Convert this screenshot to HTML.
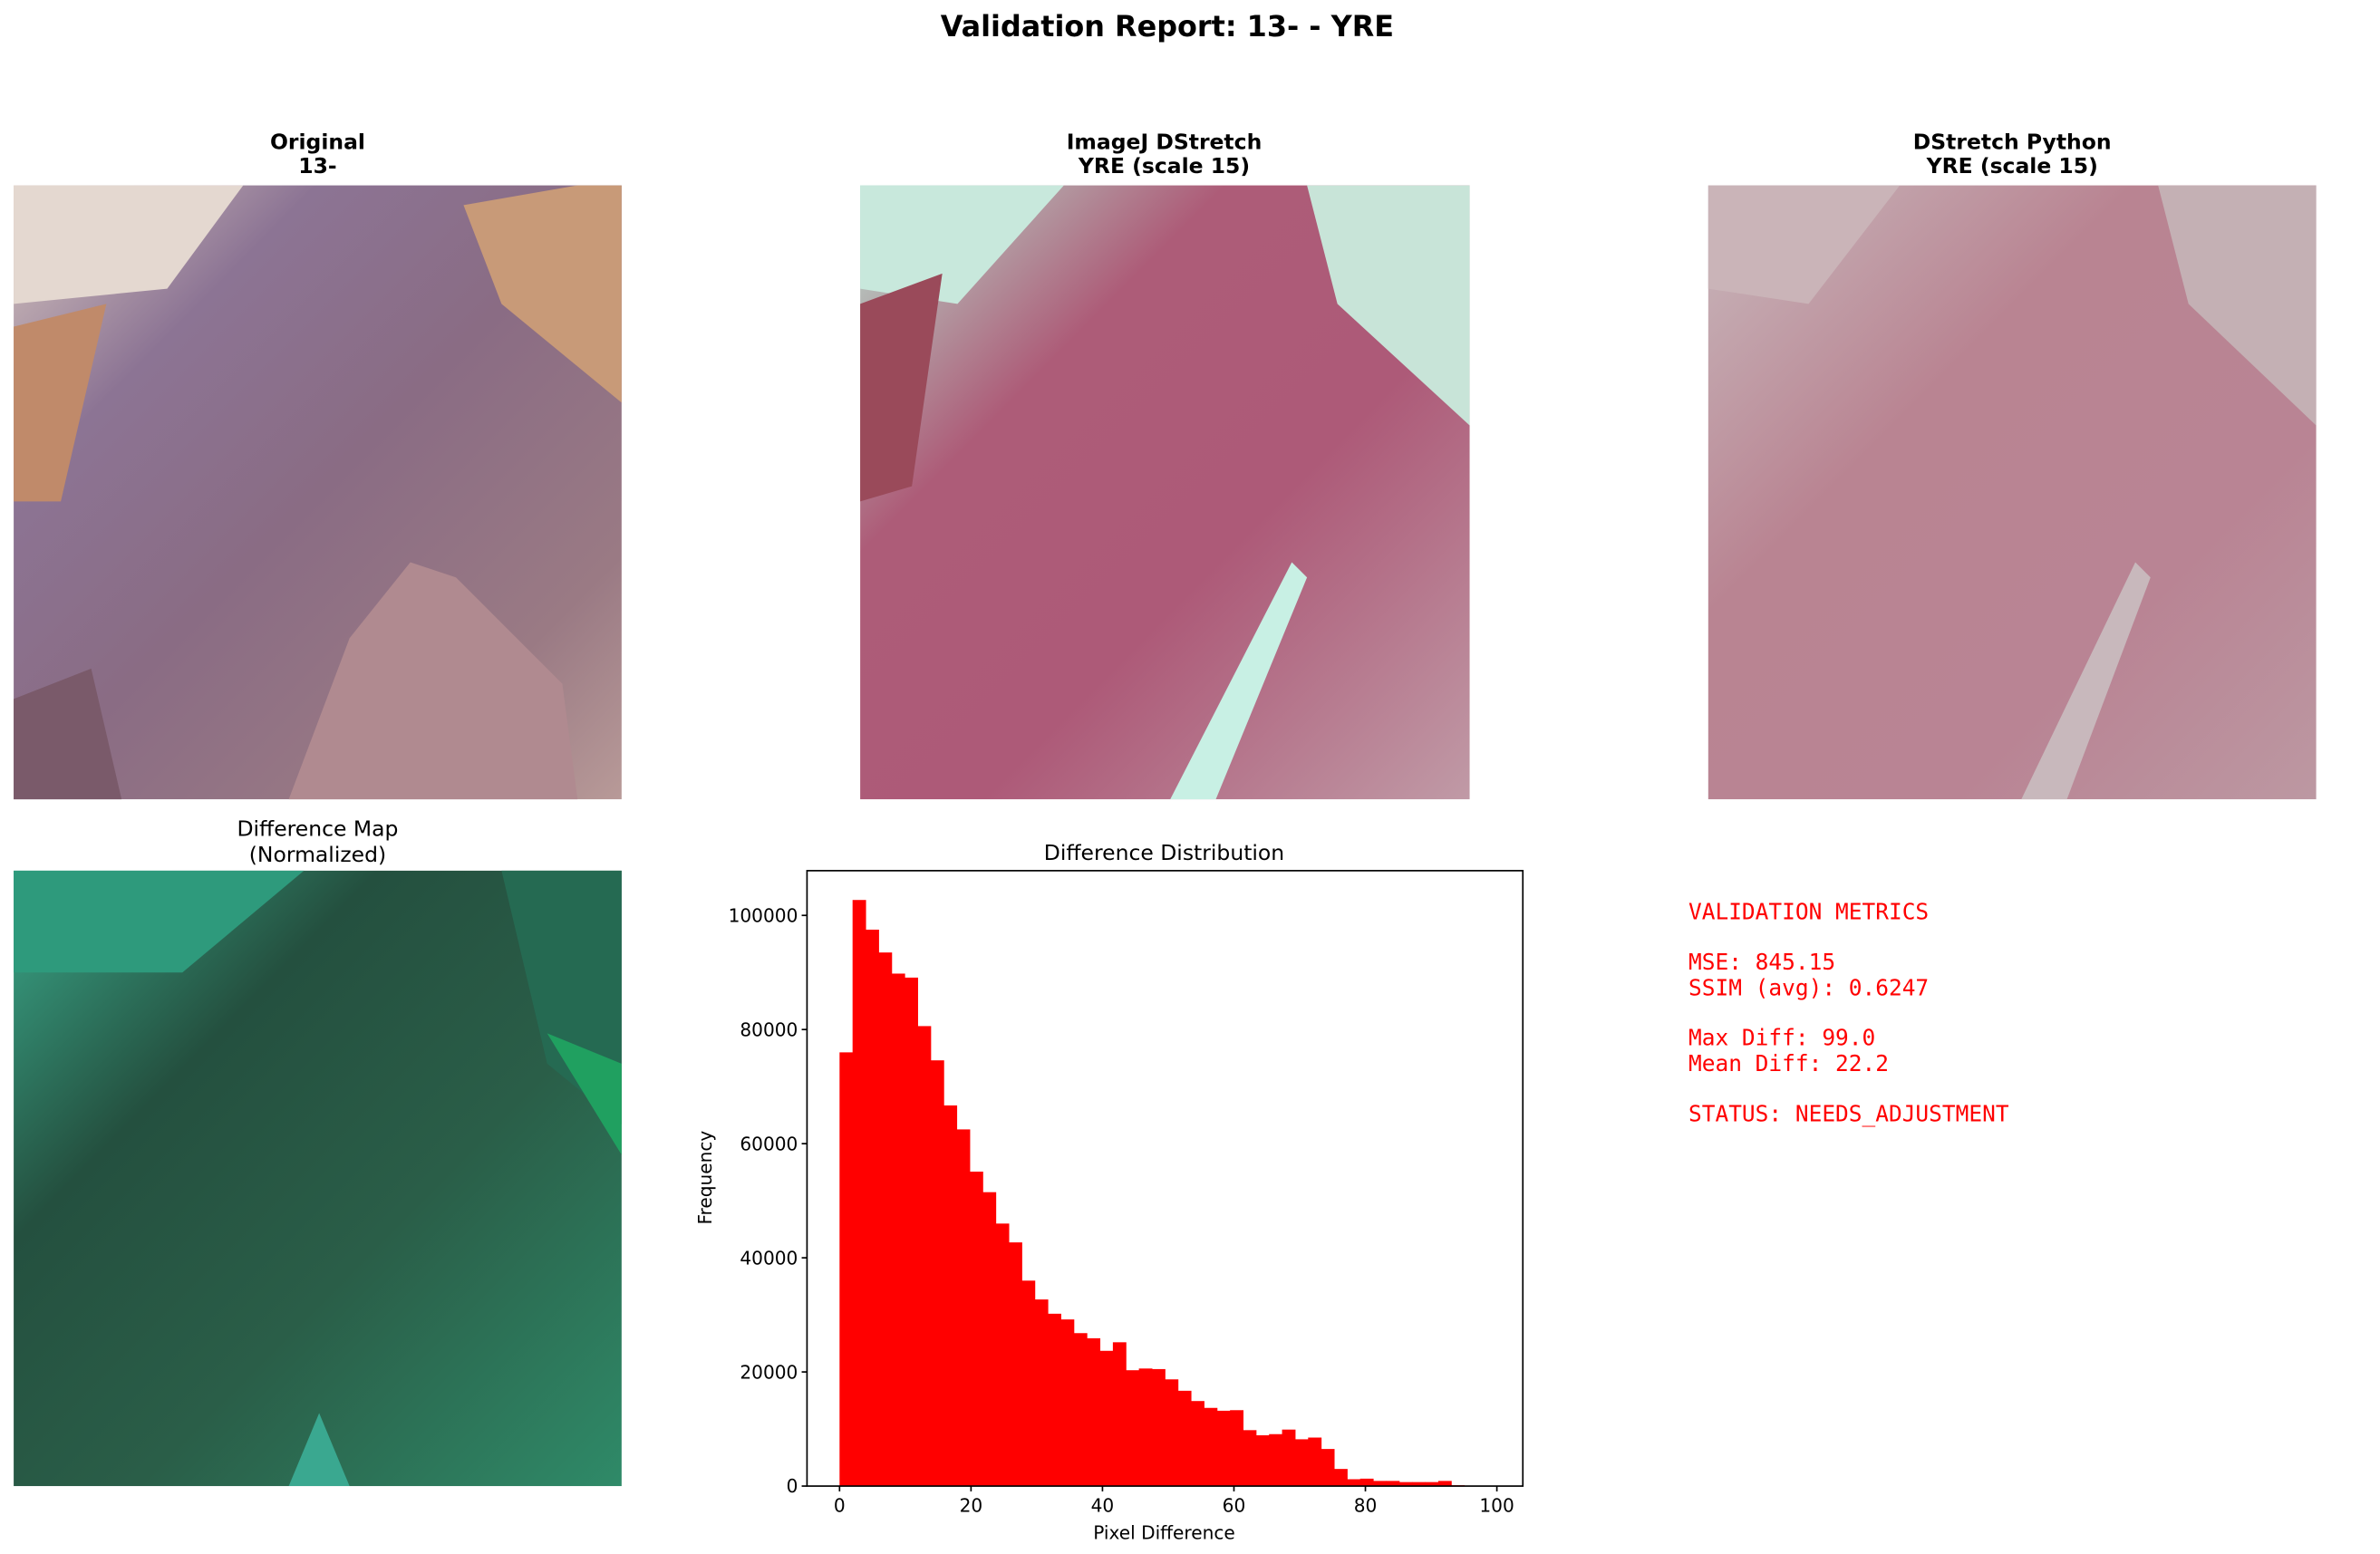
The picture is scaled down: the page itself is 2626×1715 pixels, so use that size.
<!DOCTYPE html>
<html><head><meta charset="utf-8"><style>
html,body{margin:0;padding:0;background:#fff;}
svg{display:block;font-family:"DejaVu Sans","Liberation Sans",sans-serif;}
</style></head><body>
<svg id="fig" width="2626" height="1715" viewBox="0 0 1566 1022.7" preserveAspectRatio="none" xmlns="http://www.w3.org/2000/svg">
<defs>
<linearGradient id="gOrig" x1="0" y1="0" x2="1" y2="1">
<stop offset="0" stop-color="#d8c8c0"/><stop offset="0.25" stop-color="#8c7494"/><stop offset="0.5" stop-color="#8a6c84"/><stop offset="0.8" stop-color="#9a7a84"/><stop offset="1" stop-color="#b89a98"/></linearGradient>
<linearGradient id="gIJ" x1="0" y1="0" x2="1" y2="1">
<stop offset="0" stop-color="#b8e0d0"/><stop offset="0.3" stop-color="#ad5c78"/><stop offset="0.6" stop-color="#ad5a78"/><stop offset="1" stop-color="#c09aa6"/></linearGradient>
<linearGradient id="gPy" x1="0" y1="0" x2="1" y2="1">
<stop offset="0" stop-color="#c8b8bc"/><stop offset="0.35" stop-color="#b98492"/><stop offset="0.7" stop-color="#b98494"/><stop offset="1" stop-color="#bc98a2"/></linearGradient>
<linearGradient id="gDiff" x1="0" y1="0" x2="1" y2="1">
<stop offset="0" stop-color="#3aa88a"/><stop offset="0.3" stop-color="#24503f"/><stop offset="0.6" stop-color="#2a5e48"/><stop offset="1" stop-color="#2f8a68"/></linearGradient>
</defs>
<text x="768" y="24" text-anchor="middle" font-size="19" font-weight="bold">Validation Report: 13- - YRE</text>

<g>
<text x="209" y="98" text-anchor="middle" font-size="14" font-weight="bold">Original</text>
<text x="209" y="114" text-anchor="middle" font-size="14" font-weight="bold">13-</text>
<rect x="9" y="122" width="400" height="404" fill="url(#gOrig)"/>
<polygon points="9,122 160,122 110,190 9,200" fill="#e4d8d0"/>
<polygon points="305,135 380,122 409,122 409,265 330,200" fill="#c89a78"/>
<polygon points="9,215 70,200 40,330 9,330" fill="#c08a6a"/>
<polygon points="270,370 300,380 370,450 380,526 190,526 230,420" fill="#b08a90"/>
<polygon points="9,460 60,440 80,526 9,526" fill="#7a5a6a"/>
</g>

<g>
<text x="766" y="98" text-anchor="middle" font-size="14" font-weight="bold">ImageJ DStretch</text>
<text x="766" y="114" text-anchor="middle" font-size="14" font-weight="bold">YRE (scale 15)</text>
<rect x="566" y="122" width="401" height="404" fill="url(#gIJ)"/>
<polygon points="566,122 700,122 630,200 566,190" fill="#c8e8dc"/>
<polygon points="860,122 967,122 967,280 880,200" fill="#c8e4d8"/>
<polygon points="770,526 850,370 860,380 800,526" fill="#c8f0e4"/>
<polygon points="566,200 620,180 600,320 566,330" fill="#9a4a5a"/>
</g>

<g>
<text x="1324" y="98" text-anchor="middle" font-size="14" font-weight="bold">DStretch Python</text>
<text x="1324" y="114" text-anchor="middle" font-size="14" font-weight="bold">YRE (scale 15)</text>
<rect x="1124" y="122" width="400" height="404" fill="url(#gPy)"/>
<polygon points="1124,122 1250,122 1190,200 1124,190" fill="#cab4b8"/>
<polygon points="1420,122 1524,122 1524,280 1440,200" fill="#c4b0b4"/>
<polygon points="1330,526 1405,370 1415,380 1360,526" fill="#c8b8bc"/>
</g>

<g>
<text x="209" y="550" text-anchor="middle" font-size="14">Difference Map</text>
<text x="209" y="567" text-anchor="middle" font-size="14">(Normalized)</text>
<rect x="9" y="573" width="400" height="405" fill="url(#gDiff)"/>
<polygon points="9,573 200,573 120,640 9,640" fill="#2e9a7c"/>
<polygon points="330,573 409,573 409,740 360,700" fill="#256a52"/>
<polygon points="360,680 409,700 409,760" fill="#20a060"/>
<polygon points="190,978 210,930 230,978" fill="#3aa890"/>
</g>

<g id="hist">
<text x="766" y="566" text-anchor="middle" font-size="14">Difference Distribution</text>
<g id="bars"></g>
<rect x="531" y="573" width="471" height="405" fill="none" stroke="#000" stroke-width="1"/>
<g id="xticks" font-size="12"></g>
<g id="yticks" font-size="12"></g>
<text x="766" y="1013" text-anchor="middle" font-size="12">Pixel Difference</text>
<text transform="translate(468,775) rotate(-90)" text-anchor="middle" font-size="12">Frequency</text>
</g>

<g font-family="'DejaVu Sans Mono','Liberation Mono',monospace" font-size="14.6" fill="#ff0000">
<text x="1111" y="605">VALIDATION METRICS</text>
<text x="1111" y="638">MSE: 845.15</text>
<text x="1111" y="655">SSIM (avg): 0.6247</text>
<text x="1111" y="688">Max Diff: 99.0</text>
<text x="1111" y="705">Mean Diff: 22.2</text>
<text x="1111" y="738">STATUS: NEEDS_ADJUSTMENT</text>
</g>
</svg>
<script>
const binCounts = [76000,102700,97500,93500,89800,89100,80600,74600,66700,62500,55100,51500,46000,42700,36000,32700,30200,29200,26800,25900,23700,25200,20300,20600,20500,18700,16700,14900,13700,13200,13300,9800,8900,9100,9900,8200,8500,6500,3000,1200,1300,900,900,700,700,700,900,150,80,50];
const binStart = 0;
const binWidth = 1.98;
const xTickLabels = [0,20,40,60,80,100];
const yTickLabels = [0,20000,40000,60000,80000,100000];

const NS = "http://www.w3.org/2000/svg";
const plotL = 531, plotR = 1002, plotT = 573, plotB = 978;
const xMin = -4.95, xMax = 103.95, yMax = 107835;
function xs(v){ return plotL + (v - xMin) / (xMax - xMin) * (plotR - plotL); }
function ys(v){ return plotB - v / yMax * (plotB - plotT); }

const bars = document.getElementById('bars');
binCounts.forEach((c, i) => {
  const x0 = xs(binStart + i * binWidth), x1 = xs(binStart + (i + 1) * binWidth);
  const r = document.createElementNS(NS, 'rect');
  r.setAttribute('x', x0); r.setAttribute('width', x1 - x0 + 0.3);
  r.setAttribute('y', ys(c)); r.setAttribute('height', plotB - ys(c));
  r.setAttribute('fill', '#ff0000');
  
  
  bars.appendChild(r);
});

const xt = document.getElementById('xticks');
xTickLabels.forEach(v => {
  const x = xs(v);
  const l = document.createElementNS(NS, 'line');
  l.setAttribute('x1', x); l.setAttribute('x2', x); l.setAttribute('y1', plotB); l.setAttribute('y2', plotB + 3.5);
  l.setAttribute('stroke', '#000');
  
  
  xt.appendChild(l);
  const t = document.createElementNS(NS, 'text');
  t.setAttribute('x', x); t.setAttribute('y', plotB + 17); t.setAttribute('text-anchor', 'middle');
  t.textContent = v;
  
  
  xt.appendChild(t);
});

const yt = document.getElementById('yticks');
yTickLabels.forEach(v => {
  const y = ys(v);
  const l = document.createElementNS(NS, 'line');
  l.setAttribute('x1', plotL - 3.5); l.setAttribute('x2', plotL); l.setAttribute('y1', y); l.setAttribute('y2', y);
  l.setAttribute('stroke', '#000');
  
  
  yt.appendChild(l);
  const t = document.createElementNS(NS, 'text');
  t.setAttribute('x', plotL - 6); t.setAttribute('y', y + 4.3); t.setAttribute('text-anchor', 'end');
  t.textContent = v;
  
  
  yt.appendChild(t);
});
</script>
</body></html>
